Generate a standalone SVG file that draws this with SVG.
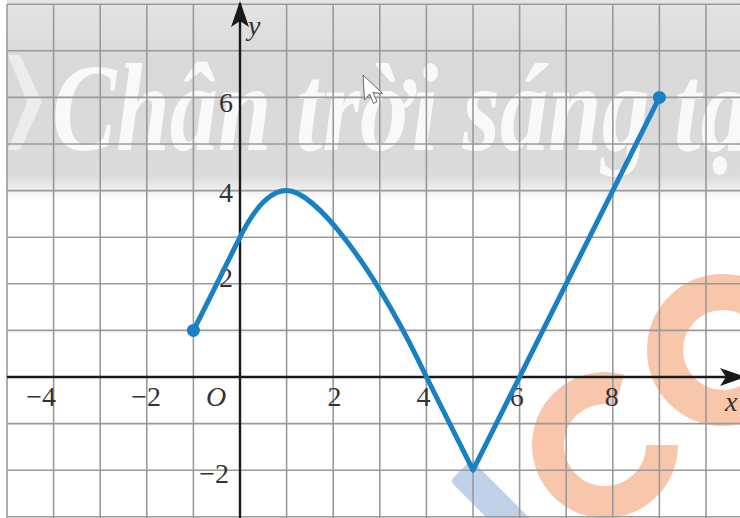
<svg xmlns="http://www.w3.org/2000/svg" width="740" height="518" viewBox="0 0 740 518">
  <defs>
    <linearGradient id="band" x1="0" y1="0" x2="0" y2="1">
      <stop offset="0" stop-color="#e4e4e4"/>
      <stop offset="0.3" stop-color="#d9d9d9"/>
      <stop offset="0.88" stop-color="#dbdbdb"/>
      <stop offset="1" stop-color="#ffffff"/>
    </linearGradient>
    <marker id="arrow" viewBox="0 0 26 20" refX="24" refY="10" markerWidth="26" markerHeight="20" markerUnits="userSpaceOnUse" orient="auto">
      <path d="M0,1 L26,10 L0,19 L6,10 Z" fill="#1a1a1a"/>
    </marker>
    <style>
      .grid line { stroke: #9a9a9a; stroke-width: 1.6; }
      .axis { stroke: #1a1a1a; stroke-width: 2.4; fill: none; }
      .lbl { font-family: "Liberation Serif", "Times New Roman", serif; font-size: 28px; fill: #333333; }
      .it { font-style: italic; }
      .curve { stroke: #1a80c4; stroke-width: 5; fill: none; stroke-linejoin: round; stroke-linecap: round; }
      .dot { fill: #1a80c4; }
      .wm { fill: none; stroke: #f7c6ab; }
    </style>
  </defs>

  <rect x="0" y="0" width="740" height="518" fill="#ffffff"/>

  <!-- watermark band -->
  <g id="watermark">
    <rect x="7" y="0" width="733" height="200" fill="url(#band)"/>
    <polygon points="8,55 20,55 42,102 20,150 8,150 27,102" fill="#ffffff" opacity="0.5"/>
    <text x="52" y="150" font-family="Liberation Serif, serif" font-style="italic" font-weight="bold" font-size="125" fill="#ffffff" opacity="0.85" textLength="745" lengthAdjust="spacingAndGlyphs">Chân trời sáng tạo</text>
  </g>

  <!-- orange / blue logo marks -->
  <g id="logo-marks">
    <path class="wm" d="M619.8,390 A57,57 0 1,0 662,445" stroke-width="32"/>
    <circle class="wm" cx="723" cy="350" r="58" stroke-width="36"/>
    <rect x="0" y="0" width="30" height="110" rx="5" fill="#c0d2e9" transform="translate(450,481) rotate(-45)"/>
  </g>

  <!-- grid -->
  <g id="grid" class="grid">
    <line x1="7" y1="4" x2="7" y2="518"/>
    <line x1="53.6" y1="4" x2="53.6" y2="518"/>
    <line x1="100.2" y1="4" x2="100.2" y2="518"/>
    <line x1="146.8" y1="4" x2="146.8" y2="518"/>
    <line x1="193.4" y1="4" x2="193.4" y2="518"/>
    <line x1="286.6" y1="4" x2="286.6" y2="518"/>
    <line x1="333.2" y1="4" x2="333.2" y2="518"/>
    <line x1="379.8" y1="4" x2="379.8" y2="518"/>
    <line x1="426.4" y1="4" x2="426.4" y2="518"/>
    <line x1="473" y1="4" x2="473" y2="518"/>
    <line x1="519.6" y1="4" x2="519.6" y2="518"/>
    <line x1="566.2" y1="4" x2="566.2" y2="518"/>
    <line x1="612.8" y1="4" x2="612.8" y2="518"/>
    <line x1="659.4" y1="4" x2="659.4" y2="518"/>
    <line x1="706" y1="4" x2="706" y2="518"/>
    <line x1="7" y1="4.2" x2="740" y2="4.2"/>
    <line x1="7" y1="50.8" x2="740" y2="50.8"/>
    <line x1="7" y1="97.4" x2="740" y2="97.4"/>
    <line x1="7" y1="144" x2="740" y2="144"/>
    <line x1="7" y1="190.6" x2="740" y2="190.6"/>
    <line x1="7" y1="237.2" x2="740" y2="237.2"/>
    <line x1="7" y1="283.8" x2="740" y2="283.8"/>
    <line x1="7" y1="330.4" x2="740" y2="330.4"/>
    <line x1="7" y1="423.6" x2="740" y2="423.6"/>
    <line x1="7" y1="470.2" x2="740" y2="470.2"/>
    <line x1="7" y1="516.8" x2="740" y2="516.8"/>
  </g>

  <!-- cursor -->
  <g id="cursor">
    <polygon points="363,75 364.5,100 369.5,94 373.5,103.5 377,101.5 373,92.5 382.5,93.5" fill="#ffffff" stroke="#6a6a6a" stroke-width="1"/>
  </g>

  <!-- axes -->
  <g id="axes">
    <line class="axis" x1="7" y1="377" x2="744" y2="377" marker-end="url(#arrow)"/>
    <line class="axis" x1="240" y1="518" x2="240" y2="3" marker-end="url(#arrow)"/>
  </g>

  <!-- labels -->
  <g id="labels" class="lbl">
    <text x="248" y="35" class="it">y</text>
    <text x="725" y="411" class="it">x</text>
    <text x="233" y="112" text-anchor="end">6</text>
    <text x="233" y="202" text-anchor="end">4</text>
    <text x="233" y="287" text-anchor="end">2</text>
    <text x="229" y="483" text-anchor="end">−2</text>
    <text x="56" y="406" text-anchor="end">−4</text>
    <text x="161" y="406" text-anchor="end">−2</text>
    <text x="206" y="406" class="it">O</text>
    <text x="334.5" y="406" text-anchor="middle">2</text>
    <text x="423.5" y="406" text-anchor="middle">4</text>
    <text x="516.7" y="406" text-anchor="middle">6</text>
    <text x="611.7" y="406" text-anchor="middle">8</text>
  </g>

  <!-- graph -->
  <g id="graph">
    <path class="curve" d="M193.4,330.4 C206,306 226,265 240,237.2 Q263.3,190.6 286.6,190.6 C314,190.6 372,262 426.4,377 L473,470.2 L659.4,97.4"/>
    <circle class="dot" cx="193.4" cy="330.4" r="6.5"/>
    <circle class="dot" cx="659.4" cy="97.4" r="6.5"/>
  </g>
</svg>
